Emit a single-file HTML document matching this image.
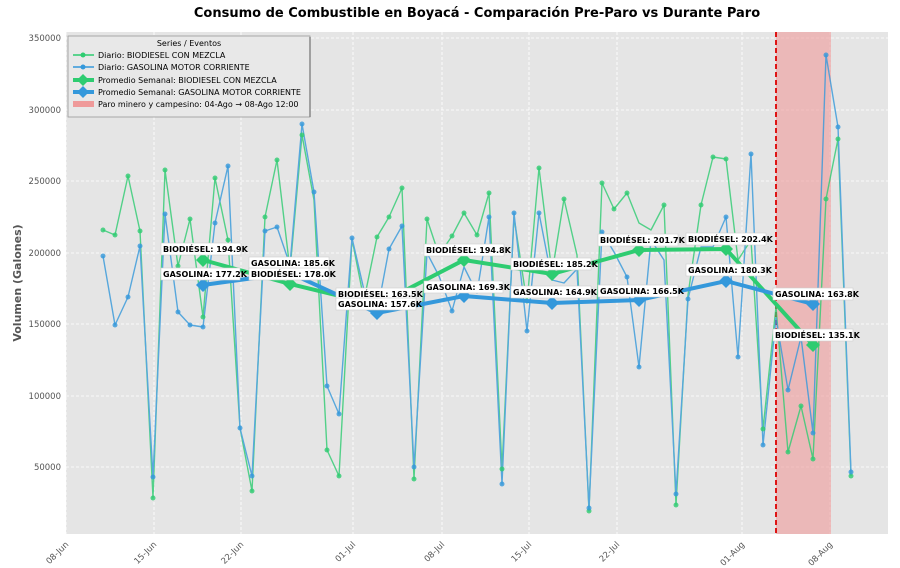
<!DOCTYPE html>
<html><head><meta charset="utf-8"><style>
body{margin:0;background:#fff;}
svg{display:block;font-family:"DejaVu Sans","Liberation Sans",sans-serif;}
.lb{font-size:8px;font-weight:bold;fill:#000;}
.tk{font-size:8.5px;fill:#555;}
</style></head><body>
<svg width="900" height="568" viewBox="0 0 900 568" xmlns="http://www.w3.org/2000/svg">
<rect x="66" y="32" width="822" height="502" fill="#e5e5e5"/>
<g stroke="#fff" stroke-width="0.8" stroke-dasharray="3,2">
<line x1="66" x2="888" y1="38" y2="38"/><line x1="66" x2="888" y1="110" y2="110"/><line x1="66" x2="888" y1="181" y2="181"/><line x1="66" x2="888" y1="253" y2="253"/><line x1="66" x2="888" y1="324" y2="324"/><line x1="66" x2="888" y1="396" y2="396"/><line x1="66" x2="888" y1="467" y2="467"/>
<line y1="32" y2="534" x1="66" x2="66"/><line y1="32" y2="534" x1="154" x2="154"/><line y1="32" y2="534" x1="241" x2="241"/><line y1="32" y2="534" x1="353" x2="353"/><line y1="32" y2="534" x1="442" x2="442"/><line y1="32" y2="534" x1="529" x2="529"/><line y1="32" y2="534" x1="617" x2="617"/><line y1="32" y2="534" x1="742" x2="742"/><line y1="32" y2="534" x1="830" x2="830"/>
</g>
<rect x="776" y="32" width="55" height="502" fill="#ef9a9a" opacity="0.6"/>
<line x1="776" x2="776" y1="32" y2="534" stroke="#d00" stroke-width="1.8" stroke-dasharray="5,3"/>
<g class="tk" text-anchor="end">
<text x="61" y="41">350000</text><text x="61" y="113">300000</text><text x="61" y="184">250000</text><text x="61" y="256">200000</text><text x="61" y="327">150000</text><text x="61" y="399">100000</text><text x="61" y="470">50000</text>
</g>
<g class="tk" text-anchor="end">
<text transform="translate(69,545) rotate(-45)">08-Jun</text>
<text transform="translate(157,545) rotate(-45)">15-Jun</text>
<text transform="translate(244,545) rotate(-45)">22-Jun</text>
<text transform="translate(356,545) rotate(-45)">01-Jul</text>
<text transform="translate(445,545) rotate(-45)">08-Jul</text>
<text transform="translate(532,545) rotate(-45)">15-Jul</text>
<text transform="translate(620,545) rotate(-45)">22-Jul</text>
<text transform="translate(745,545) rotate(-45)">01-Aug</text>
<text transform="translate(833,545) rotate(-45)">08-Aug</text>
</g>
<text transform="translate(21,283) rotate(-90)" text-anchor="middle" font-size="11" font-weight="bold" fill="#555">Volumen (Galones)</text>
<text x="477" y="17" text-anchor="middle" font-size="13" font-weight="bold" fill="#000">Consumo de Combustible en Boyacá - Comparación Pre-Paro vs Durante Paro</text>
<g fill="none" stroke-width="1.4" stroke-linejoin="round" opacity="0.8">
<polyline stroke="#2ecc71" points="103,230 115,235 128,176 140,231 153,498 165,170 178,266 190,219 203,317 215,178 228,240 240,428 252,491 265,217 277,160 290,270 302,135 314,200 327,450 339,476 352,239 364,300 377,237 389,217 402,188 414,479 427,219 439,255 452,236 464,213 477,235 489,193 502,469 514,217 527,303 539,168 552,273 564,199 577,255 589,511 602,183 614,209 627,193 639,223 651,230 664,205 676,505 688,295 701,205 713,157 726,159 738,260 751,240 763,429 776,307 788,452 801,406 813,459 826,199 838,139 851,476"/>
<polyline stroke="#3498db" points="103,256 115,325 128,297 140,246 153,477 165,214 178,312 190,325 203,327 215,223 228,166 240,428 252,476 265,231 277,227 290,265 302,124 314,192 327,386 339,414 352,238 364,290 377,313 389,249 402,226 414,467 427,253 439,276 452,311 464,267 477,293 489,217 502,484 514,213 527,331 539,213 552,280 564,283 577,269 589,508 602,232 614,252 627,277 639,367 651,240 664,260 676,494 688,299 701,247 713,247 726,217 738,357 751,154 763,445 776,318 788,390 801,337 813,433 826,55 838,127 851,472"/>
</g>
<g fill="#2ecc71" opacity="0.8">
<circle cx="103" cy="230" r="2.5"/><circle cx="115" cy="235" r="2.5"/><circle cx="128" cy="176" r="2.5"/><circle cx="140" cy="231" r="2.5"/><circle cx="153" cy="498" r="2.5"/><circle cx="165" cy="170" r="2.5"/><circle cx="178" cy="266" r="2.5"/><circle cx="190" cy="219" r="2.5"/><circle cx="203" cy="317" r="2.5"/><circle cx="215" cy="178" r="2.5"/><circle cx="228" cy="240" r="2.5"/><circle cx="252" cy="491" r="2.5"/><circle cx="265" cy="217" r="2.5"/><circle cx="277" cy="160" r="2.5"/><circle cx="302" cy="135" r="2.5"/><circle cx="327" cy="450" r="2.5"/><circle cx="339" cy="476" r="2.5"/><circle cx="377" cy="237" r="2.5"/><circle cx="389" cy="217" r="2.5"/><circle cx="402" cy="188" r="2.5"/><circle cx="414" cy="479" r="2.5"/><circle cx="427" cy="219" r="2.5"/><circle cx="452" cy="236" r="2.5"/><circle cx="464" cy="213" r="2.5"/><circle cx="477" cy="235" r="2.5"/><circle cx="489" cy="193" r="2.5"/><circle cx="502" cy="469" r="2.5"/><circle cx="539" cy="168" r="2.5"/><circle cx="564" cy="199" r="2.5"/><circle cx="589" cy="511" r="2.5"/><circle cx="602" cy="183" r="2.5"/><circle cx="614" cy="209" r="2.5"/><circle cx="627" cy="193" r="2.5"/><circle cx="664" cy="205" r="2.5"/><circle cx="676" cy="505" r="2.5"/><circle cx="701" cy="205" r="2.5"/><circle cx="713" cy="157" r="2.5"/><circle cx="726" cy="159" r="2.5"/><circle cx="763" cy="429" r="2.5"/><circle cx="788" cy="452" r="2.5"/><circle cx="801" cy="406" r="2.5"/><circle cx="813" cy="459" r="2.5"/><circle cx="826" cy="199" r="2.5"/><circle cx="838" cy="139" r="2.5"/><circle cx="851" cy="476" r="2.5"/>
</g>
<g fill="#3498db" opacity="0.8">
<circle cx="103" cy="256" r="2.5"/><circle cx="115" cy="325" r="2.5"/><circle cx="128" cy="297" r="2.5"/><circle cx="140" cy="246" r="2.5"/><circle cx="153" cy="477" r="2.5"/><circle cx="165" cy="214" r="2.5"/><circle cx="178" cy="312" r="2.5"/><circle cx="190" cy="325" r="2.5"/><circle cx="203" cy="327" r="2.5"/><circle cx="215" cy="223" r="2.5"/><circle cx="228" cy="166" r="2.5"/><circle cx="240" cy="428" r="2.5"/><circle cx="252" cy="476" r="2.5"/><circle cx="265" cy="231" r="2.5"/><circle cx="277" cy="227" r="2.5"/><circle cx="302" cy="124" r="2.5"/><circle cx="314" cy="192" r="2.5"/><circle cx="327" cy="386" r="2.5"/><circle cx="339" cy="414" r="2.5"/><circle cx="352" cy="238" r="2.5"/><circle cx="389" cy="249" r="2.5"/><circle cx="402" cy="226" r="2.5"/><circle cx="414" cy="467" r="2.5"/><circle cx="452" cy="311" r="2.5"/><circle cx="489" cy="217" r="2.5"/><circle cx="502" cy="484" r="2.5"/><circle cx="514" cy="213" r="2.5"/><circle cx="527" cy="331" r="2.5"/><circle cx="539" cy="213" r="2.5"/><circle cx="589" cy="508" r="2.5"/><circle cx="602" cy="232" r="2.5"/><circle cx="627" cy="277" r="2.5"/><circle cx="639" cy="367" r="2.5"/><circle cx="676" cy="494" r="2.5"/><circle cx="688" cy="299" r="2.5"/><circle cx="726" cy="217" r="2.5"/><circle cx="738" cy="357" r="2.5"/><circle cx="751" cy="154" r="2.5"/><circle cx="763" cy="445" r="2.5"/><circle cx="788" cy="390" r="2.5"/><circle cx="813" cy="433" r="2.5"/><circle cx="826" cy="55" r="2.5"/><circle cx="838" cy="127" r="2.5"/><circle cx="851" cy="472" r="2.5"/>
</g>
<polyline fill="none" stroke="#2ecc71" stroke-width="4" points="203,260 290,284 377,305 464,260 552,274 639,250 726,249 813,345"/>
<polyline fill="none" stroke="#3498db" stroke-width="4" points="203,285 290,273 377,313 464,296 552,303 639,300 726,281 813,304"/>
<g fill="#2ecc71"><path d="M203,253 l7,7 -7,7 -7,-7z"/><path d="M290,277 l7,7 -7,7 -7,-7z"/><path d="M377,298 l7,7 -7,7 -7,-7z"/><path d="M464,253 l7,7 -7,7 -7,-7z"/><path d="M552,267 l7,7 -7,7 -7,-7z"/><path d="M639,243 l7,7 -7,7 -7,-7z"/><path d="M726,242 l7,7 -7,7 -7,-7z"/><path d="M813,338 l7,7 -7,7 -7,-7z"/></g>
<g fill="#3498db"><path d="M203,278 l7,7 -7,7 -7,-7z"/><path d="M290,266 l7,7 -7,7 -7,-7z"/><path d="M377,306 l7,7 -7,7 -7,-7z"/><path d="M464,289 l7,7 -7,7 -7,-7z"/><path d="M552,296 l7,7 -7,7 -7,-7z"/><path d="M639,293 l7,7 -7,7 -7,-7z"/><path d="M726,274 l7,7 -7,7 -7,-7z"/><path d="M813,297 l7,7 -7,7 -7,-7z"/></g>
<g fill="#fff" stroke="#ccc" stroke-width="0.6">
<rect x="161" y="243" width="80" height="12"/><rect x="161" y="268" width="79" height="12"/>
<rect x="249" y="257" width="80" height="12"/><rect x="249" y="268" width="80" height="12"/>
<rect x="336" y="288" width="80" height="12"/><rect x="336" y="298" width="80" height="12"/>
<rect x="424" y="244" width="80" height="12"/><rect x="424" y="281" width="79" height="12"/>
<rect x="511" y="258" width="80" height="12"/><rect x="511" y="286" width="80" height="12"/>
<rect x="598" y="234" width="80" height="12"/><rect x="598" y="285" width="80" height="12"/>
<rect x="686" y="233" width="80" height="12"/><rect x="686" y="264" width="80" height="12"/>
<rect x="773" y="288" width="80" height="12"/><rect x="773" y="329" width="80" height="12"/>
</g>
<g class="lb">
<text x="163" y="252">BIODIÉSEL: 194.9K</text><text x="163" y="277">GASOLINA: 177.2K</text>
<text x="251" y="266">GASOLINA: 185.6K</text><text x="251" y="277">BIODIÉSEL: 178.0K</text>
<text x="338" y="297">BIODIÉSEL: 163.5K</text><text x="338" y="307">GASOLINA: 157.6K</text>
<text x="426" y="253">BIODIÉSEL: 194.8K</text><text x="426" y="290">GASOLINA: 169.3K</text>
<text x="513" y="267">BIODIÉSEL: 185.2K</text><text x="513" y="295">GASOLINA: 164.9K</text>
<text x="600" y="243">BIODIÉSEL: 201.7K</text><text x="600" y="294">GASOLINA: 166.5K</text>
<text x="688" y="242">BIODIÉSEL: 202.4K</text><text x="688" y="273">GASOLINA: 180.3K</text>
<text x="775" y="297">GASOLINA: 163.8K</text><text x="775" y="338">BIODIÉSEL: 135.1K</text>
</g>
<rect x="68" y="36" width="242" height="81" fill="#e8e8e8" stroke="#999" stroke-width="0.8"/>
<line x1="310" y1="37" x2="310" y2="117" stroke="#888" stroke-width="1.5"/>
<g font-size="8" fill="#000">
<text x="189" y="46" text-anchor="middle">Series / Eventos</text>
<line x1="73" x2="94" y1="55" y2="55" stroke="#2ecc71" stroke-width="1.4"/><circle cx="83" cy="55" r="2.5" fill="#2ecc71"/>
<text x="98" y="58">Diario: BIODIESEL CON MEZCLA</text>
<line x1="73" x2="94" y1="67" y2="67" stroke="#3498db" stroke-width="1.4"/><circle cx="83" cy="67" r="2.5" fill="#3498db"/>
<text x="98" y="70">Diario: GASOLINA MOTOR CORRIENTE</text>
<line x1="73" x2="94" y1="80" y2="80" stroke="#2ecc71" stroke-width="4"/><path d="M83,74 l6,6 -6,6 -6,-6z" fill="#2ecc71"/>
<text x="98" y="83">Promedio Semanal: BIODIESEL CON MEZCLA</text>
<line x1="73" x2="94" y1="92" y2="92" stroke="#3498db" stroke-width="4"/><path d="M83,86 l6,6 -6,6 -6,-6z" fill="#3498db"/>
<text x="98" y="95">Promedio Semanal: GASOLINA MOTOR CORRIENTE</text>
<rect x="73" y="101" width="21" height="6" fill="#ef9a9a"/>
<text x="98" y="107">Paro minero y campesino: 04-Ago → 08-Ago 12:00</text>
</g>
</svg>
</body></html>
